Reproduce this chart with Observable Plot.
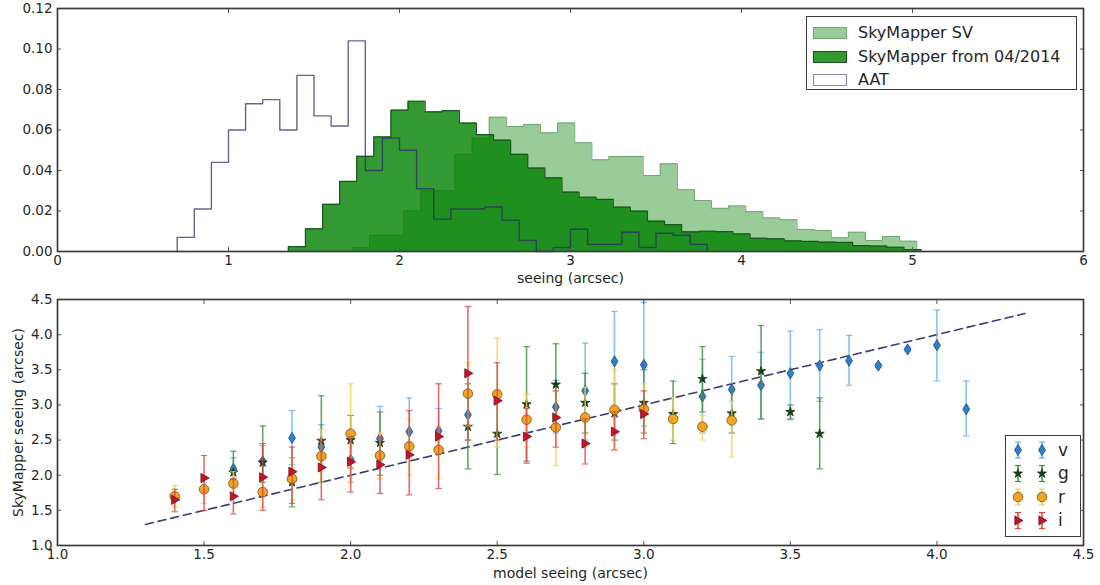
<!DOCTYPE html>
<html><head><meta charset="utf-8">
<script src="https://cdn.jsdelivr.net/npm/d3@7"></script>
<script src="https://cdn.jsdelivr.net/npm/@observablehq/plot@0.6"></script>
<style>
body{margin:0;background:#fff;font-family:"DejaVu Sans",sans-serif;}
#wrap{position:relative;width:1100px;height:585px;overflow:hidden;}
.panel{position:absolute;left:0;}
.legend{position:absolute;border:1.6px solid #3c3c3c;background:#fff;color:#262626;box-sizing:border-box;}
.lrow{position:absolute;left:0;white-space:nowrap;}
.patch{position:absolute;box-sizing:border-box;}
</style></head><body><div id="wrap"></div>
<script>
// ---------- top panel: histograms (bin left edges, heights) ----------
const aatEdges = [0.7,0.8,0.9,1.0,1.1,1.2,1.3,1.4,1.5,1.6,1.7,1.8,1.9,2.0,2.1,2.2,2.3,2.4,2.5,2.6,2.7,2.8,2.9,3.0,3.1,3.2,3.3,3.4,3.5,3.6,3.7,3.8];
const aatValues = [0.007,0.021,0.044,0.060,0.073,0.075,0.060,0.087,0.067,0.062,0.104,0.040,0.056,0.050,0.031,0.016,0.021,0.021,0.022,0.0155,0.0055,0,0.002,0.011,0.0035,0.0035,0.0095,0.002,0.009,0.008,0.0035];

const smEdges = [1.35,1.45,1.55,1.65,1.75,1.85,1.95,2.05,2.15,2.25,2.35,2.45,2.55,2.65,2.75,2.85,2.95,3.05,3.15,3.25,3.35,3.45,3.55,3.65,3.75,3.85,3.95,4.05,4.15,4.25,4.35,4.45,4.55,4.65,4.75,4.85,4.95,5.05];
const smValues = [0.0024,0.0112,0.0233,0.0346,0.047,0.0566,0.0698,0.0742,0.069,0.0696,0.0634,0.0577,0.055,0.048,0.0412,0.0364,0.0293,0.0268,0.0257,0.0219,0.0199,0.015,0.0133,0.0097,0.0100,0.0098,0.0087,0.0065,0.0062,0.0052,0.0050,0.0046,0.0045,0.0029,0.0027,0.0021,0.0010];

const svEdges = [1.725,1.825,1.925,2.025,2.125,2.225,2.325,2.425,2.525,2.625,2.725,2.825,2.925,3.025,3.125,3.225,3.325,3.425,3.525,3.625,3.725,3.825,3.925,4.025,4.125,4.225,4.325,4.425,4.525,4.625,4.725,4.825,4.925,5.025];
const svValues = [0.002,0.008,0.008,0.020,0.030,0.030,0.048,0.056,0.0663,0.0617,0.0627,0.0586,0.0635,0.0537,0.0453,0.0469,0.0469,0.0375,0.0433,0.0305,0.0252,0.0213,0.0225,0.0197,0.0166,0.0157,0.0109,0.0104,0.0068,0.0095,0.0054,0.0074,0.0051];

const topXTicks = [0,1,2,3,4,5,6];
const topYTicks = [0,0.02,0.04,0.06,0.08,0.10,0.12];
const histLabels = ["SkyMapper SV","SkyMapper from 04/2014","AAT"];

// ---------- bottom panel: per-filter seeing (x, y, lower, upper) ----------
const vX  = [1.6,1.7,1.8,1.9,2.0,2.1,2.2,2.3,2.4,2.7,2.8,2.9,3.0,3.2,3.3,3.4,3.5,3.6,3.7,3.8,3.9,4.0,4.1];
const vY  = [2.09,2.20,2.53,2.40,2.22,2.52,2.62,2.63,2.86,2.97,3.20,3.62,3.57,3.12,3.22,3.28,3.45,3.56,3.63,3.56,3.79,3.85,2.94];
const vLo = [1.95,2.00,2.15,2.10,1.90,2.20,2.30,2.30,2.50,2.60,2.50,2.90,2.70,2.60,2.80,2.80,2.79,3.05,3.28,3.53,3.76,3.34,2.56];
const vHi = [2.25,2.42,2.92,2.72,2.55,2.98,3.10,2.95,3.20,3.35,3.88,4.33,4.46,3.65,3.69,3.75,4.05,4.07,3.99,3.59,3.82,4.35,3.34];

const gX  = [1.6,1.7,1.8,1.9,2.0,2.1,2.4,2.5,2.6,2.7,2.8,2.9,3.0,3.1,3.2,3.3,3.4,3.5,3.6];
const gY  = [2.04,2.18,1.90,2.49,2.50,2.46,2.69,2.59,3.01,3.29,3.03,2.88,3.03,2.87,3.37,2.88,3.48,2.90,2.59];
const gLo = [1.85,1.90,1.55,1.90,2.10,2.00,2.09,2.01,2.20,2.70,2.60,2.50,2.60,2.45,2.90,2.60,2.80,2.80,2.09];
const gHi = [2.34,2.70,2.25,3.13,2.85,2.90,3.30,3.20,3.83,3.87,3.45,3.30,3.50,3.34,3.83,3.20,4.13,3.00,3.10];

const rX  = [1.4,1.5,1.6,1.7,1.8,1.9,2.0,2.1,2.2,2.3,2.4,2.5,2.6,2.7,2.8,2.9,3.0,3.1,3.2,3.3];
const rY  = [1.70,1.80,1.88,1.76,1.95,2.27,2.59,2.28,2.41,2.36,3.16,3.15,2.79,2.68,2.82,2.93,2.94,2.80,2.69,2.78];
const rLo = [1.55,1.60,1.70,1.55,1.65,1.90,1.90,1.95,2.00,1.95,2.70,2.40,2.40,2.14,2.40,2.36,2.60,2.50,2.50,2.26];
const rHi = [1.85,1.98,2.05,1.95,2.25,2.65,3.30,2.60,2.80,2.70,3.60,3.95,3.15,3.20,3.25,3.50,3.30,3.10,2.85,3.05];

const iX  = [1.4,1.5,1.6,1.7,1.8,1.9,2.0,2.1,2.2,2.3,2.4,2.5,2.6,2.7,2.8,2.9,3.0];
const iY  = [1.65,1.96,1.70,1.97,2.05,2.11,2.19,2.15,2.29,2.55,3.45,3.06,2.55,2.82,2.45,2.62,2.87];
const iLo = [1.48,1.50,1.45,1.50,1.60,1.65,1.76,1.74,1.72,1.81,2.50,2.50,2.17,2.40,2.16,2.36,2.52];
const iHi = [1.80,2.28,1.95,2.45,2.40,2.50,2.55,2.55,2.92,3.30,4.40,3.60,2.95,3.20,2.80,2.90,3.20];

const oneToOne = [1.3, 4.3];
const botTicks = [1.0,1.5,2.0,2.5,3.0,3.5,4.0,4.5];
const filterNames = ["v","g","r","i"];

// ---------- helpers ----------
function stepPoints(edges, values) {
  const pts = [{x: edges[0], y: 0}];
  values.forEach((v, i) => pts.push({x: edges[i], y: v}));
  pts.push({x: edges[edges.length - 1], y: values[values.length - 1]});
  pts.push({x: edges[edges.length - 1], y: 0});
  return pts;
}
function table(xs, ys, los, his) {
  return xs.map((x, i) => ({x, y: ys[i], lo: los[i], hi: his[i]}));
}
const rad = s => Math.sqrt(s / Math.PI);
const thinDiamond = {draw(c, s){const r = rad(s); c.moveTo(0,-r*1.3); c.lineTo(r*0.8,0); c.lineTo(0,r*1.3); c.lineTo(-r*0.8,0); c.closePath();}};
const triRight = {draw(c, s){const r = rad(s); c.moveTo(r*1.2,0); c.lineTo(-r*0.75,-r*1.1); c.lineTo(-r*0.75,r*1.1); c.closePath();}};
const capSym = {draw(c, s){const r = rad(s); c.moveTo(-r,0); c.lineTo(r,0);}};
const starSym = d3.symbolStar;

const FONT = "DejaVu Sans, sans-serif";
function frameAxes(xt, yt, xf, yf) {
  return [
    Plot.axisX(xt, {anchor:"bottom", tickSize:0, tickPadding:4, tickFormat:xf, label:null, fontSize:13.5}),
    Plot.axisY(yt, {anchor:"left", tickSize:0, tickPadding:5, tickFormat:yf, label:null, fontSize:13.5}),
    Plot.axisX(xt, {anchor:"bottom", tickSize:-4, tickFormat:() => "", label:null, stroke:"#555"}),
    Plot.axisX(xt, {anchor:"top", tickSize:-4, tickFormat:() => "", label:null, stroke:"#555"}),
    Plot.axisY(yt, {anchor:"left", tickSize:-4, tickFormat:() => "", label:null, stroke:"#555"}),
    Plot.axisY(yt, {anchor:"right", tickSize:-4, tickFormat:() => "", label:null, stroke:"#555"}),
    Plot.frame({stroke:"#3c3c3c", strokeWidth:1.7})
  ];
}

const wrap = document.getElementById("wrap");

// ---------- top panel ----------
const svPts = stepPoints(svEdges, svValues);
const smPts = stepPoints(smEdges, smValues);
const aatPts = stepPoints(aatEdges, aatValues);

const SV_STROKE = "#74a474", SM_STROKE = "#1b551b", AAT_STROKE = "#2a2a6a";
const topPlot = Plot.plot({
  width:1100, height:290, marginTop:8, marginBottom:39, marginLeft:57, marginRight:17,
  x:{domain:[0,6], label:null}, y:{domain:[0,0.12], label:null},
  style:{fontFamily:FONT, fontSize:"13.5px", color:"#262626", background:"transparent", overflow:"visible"},
  marks:[
    Plot.areaY(svPts, {x:"x", y:"y", curve:"step-after", fill:"#008000", fillOpacity:0.4}),
    Plot.lineY(svPts, {x:"x", y:"y", curve:"step-after", stroke:SV_STROKE, strokeWidth:1}),
    Plot.areaY(smPts, {x:"x", y:"y", curve:"step-after", fill:"#008000", fillOpacity:0.8}),
    Plot.lineY(smPts, {x:"x", y:"y", curve:"step-after", stroke:SM_STROKE, strokeWidth:1.2}),
    Plot.lineY(aatPts, {x:"x", y:"y", curve:"step-after", stroke:AAT_STROKE, strokeOpacity:0.72, strokeWidth:1.4}),
    ...frameAxes(topXTicks, topYTicks, d3.format("d"), d3.format(".2f")),
    Plot.text(["seeing (arcsec)"], {frameAnchor:"bottom", dy:27, lineAnchor:"middle", textAnchor:"middle", text:d => d, fontSize:14, fill:"#262626"})
  ]
});
topPlot.classList.add("panel"); topPlot.style.top = "0px";
wrap.appendChild(topPlot);

// top legend
const tl = document.createElement("div");
tl.className = "legend";
Object.assign(tl.style, {left:"806px", top:"16px", width:"271px", height:"74px"});
const patchStyles = [
  {bg:"rgba(0,128,0,0.4)", bd:SV_STROKE},
  {bg:"rgba(0,128,0,0.8)", bd:SM_STROKE},
  {bg:"#fff", bd:"rgba(42,42,106,0.55)"}
];
histLabels.forEach((lab, i) => {
  const row = document.createElement("div");
  row.className = "lrow";
  row.style.top = (5 + i * 23.5) + "px";
  row.style.height = "22px"; row.style.width = "100%";
  const p = document.createElement("div");
  p.className = "patch";
  Object.assign(p.style, {left:"6px", top:"5px", width:"34px", height:"12px", background:patchStyles[i].bg, border:"1.2px solid " + patchStyles[i].bd});
  const t = document.createElement("span");
  Object.assign(t.style, {position:"absolute", left:"51px", top:"1px", fontSize:"16px", lineHeight:"20px"});
  t.textContent = lab;
  row.appendChild(p); row.appendChild(t);
  tl.appendChild(row);
});
wrap.appendChild(tl);

// ---------- bottom panel ----------
const series = [
  {name:"v", data:table(vX, vY, vLo, vHi), sym:thinDiamond, r:4.3, fill:"#2f7fcc", stroke:"#1d4a78", err:"#6fb2e6"},
  {name:"g", data:table(gX, gY, gLo, gHi), sym:starSym, r:2.9, fill:"#183f18", stroke:"#183f18", err:"#3f8f3f"},
  {name:"r", data:table(rX, rY, rLo, rHi), sym:"circle", r:4.8, fill:"#f2a421", stroke:"#6f5514", err:"#f2cf55"},
  {name:"i", data:table(iX, iY, iLo, iHi), sym:triRight, r:4.2, fill:"#c4152b", stroke:"#7a0e18", err:"#d84848"}
];
const seriesMarks = series.flatMap(s => [
  Plot.ruleX(s.data, {x:"x", y1:"lo", y2:"hi", stroke:s.err, strokeWidth:1.6, strokeOpacity:0.8}),
  Plot.dot(s.data, {x:"x", y:"lo", symbol:capSym, r:3.2, stroke:s.err, fill:"none", strokeWidth:1.2, strokeOpacity:0.8}),
  Plot.dot(s.data, {x:"x", y:"hi", symbol:capSym, r:3.2, stroke:s.err, fill:"none", strokeWidth:1.2, strokeOpacity:0.8}),
  Plot.dot(s.data, {x:"x", y:"y", symbol:s.sym, r:s.r, fill:s.fill, stroke:s.stroke, strokeWidth:0.8})
]);

const bottomPlot = Plot.plot({
  width:1100, height:295, marginTop:9, marginBottom:40, marginLeft:57, marginRight:17,
  x:{domain:[1,4.5], label:null}, y:{domain:[1,4.5], label:null},
  style:{fontFamily:FONT, fontSize:"13.5px", color:"#262626", background:"transparent", overflow:"visible"},
  marks:[
    Plot.line(oneToOne.map(v => ({x:v, y:v})), {x:"x", y:"y", stroke:"#3b3b78", strokeWidth:1.6, strokeDasharray:"8,5"}),
    ...seriesMarks,
    ...frameAxes(botTicks, botTicks, d3.format(".1f"), d3.format(".1f")),
    Plot.text(["model seeing (arcsec)"], {frameAnchor:"bottom", dy:28, lineAnchor:"middle", textAnchor:"middle", text:d => d, fontSize:14, fill:"#262626"}),
    Plot.text(["SkyMapper seeing (arcsec)"], {frameAnchor:"left", dx:-39, rotate:-90, lineAnchor:"middle", textAnchor:"middle", text:d => d, fontSize:14, fill:"#262626"})
  ]
});
bottomPlot.classList.add("panel"); bottomPlot.style.top = "290px";
wrap.appendChild(bottomPlot);

// bottom legend (two sample markers with error bars per filter)
const bl = document.createElement("div");
bl.className = "legend";
Object.assign(bl.style, {left:"1005px", top:"435px", width:"76px", height:"102px"});
const symPath = (sym, r) => {
  const p = d3.path();
  const s = typeof sym === "string" ? d3.symbolCircle : sym;
  s.draw(p, r * r * Math.PI);
  return p.toString();
};
let svgMarkup = `<svg width="76" height="102" style="position:absolute;left:0;top:0;overflow:visible">`;
series.forEach((s, i) => {
  const cy = 14 + i * 23.5;
  [12, 36].forEach(cx => {
    svgMarkup += `<line x1="${cx}" x2="${cx}" y1="${cy-8}" y2="${cy+8}" stroke="${s.err}" stroke-width="1.5"/>`;
    svgMarkup += `<line x1="${cx-3}" x2="${cx+3}" y1="${cy-8}" y2="${cy-8}" stroke="${s.err}" stroke-width="1.2"/>`;
    svgMarkup += `<line x1="${cx-3}" x2="${cx+3}" y1="${cy+8}" y2="${cy+8}" stroke="${s.err}" stroke-width="1.2"/>`;
    svgMarkup += `<path transform="translate(${cx},${cy})" d="${symPath(s.sym, s.r)}" fill="${s.fill}" stroke="${s.stroke}" stroke-width="0.8"/>`;
  });
  svgMarkup += `<text x="52" y="${cy}" dy="0.35em" font-size="17" font-family="DejaVu Sans, sans-serif" fill="#262626">${filterNames[i]}</text>`;
});
svgMarkup += `</svg>`;
bl.innerHTML = svgMarkup;
wrap.appendChild(bl);
</script></body></html>
